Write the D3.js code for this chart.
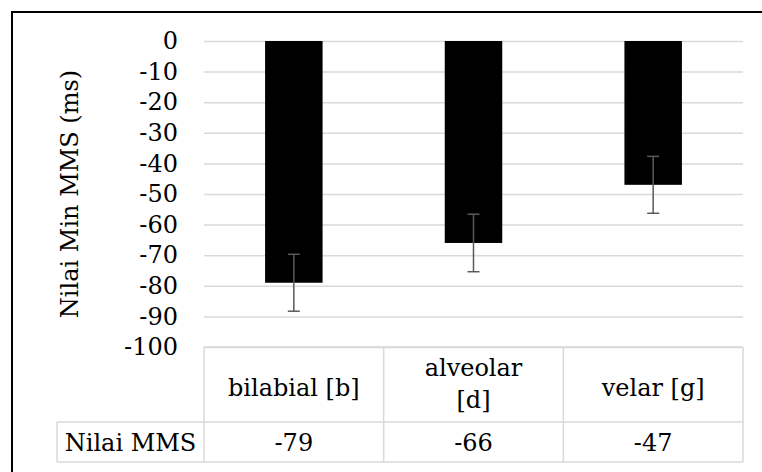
<!DOCTYPE html>
<html>
<head>
<meta charset="utf-8">
<script src="https://cdn.jsdelivr.net/npm/d3@7"></script>
<style>
    body { margin: 0; background: #fff; }
</style>
</head>
<body>
<svg id="chart" width="762" height="472"></svg>
<script>
// Chart values.
const categories = ["bilabial [b]", "alveolar\n[d]", "velar [g]"];
const values = [-79, -66, -47];
const errors = [9.3, 9.4, 9.3];
const yTicks = [0, -10, -20, -30, -40, -50, -60, -70, -80, -90, -100];
const yTitle = "Nilai Min MMS (ms)";
const rowLabel = "Nilai MMS";

const svg = d3.select("#chart");
const fontFamily = "'DejaVu Serif', 'Liberation Serif', serif";
const fontSize = 24;
const gridColor = "#d9d9d9";

// Plot area ("top" is taken by window, hence the plot prefix)
const plotLeft = 204, plotRight = 743, plotTop = 41, plotBottom = 347;
const headerBottom = 422, tableBottom = 462, labelLeft = 57;

const xScale = d3.scaleBand()
    .domain(categories)
    .range([plotLeft, plotRight]);

const yScale = d3.scaleLinear()
    .domain([0, -100])
    .range([plotTop, plotBottom]);

// Outer frame, it runs off the right and bottom edge like the original.
svg.append("rect")
    .attr("x", 12).attr("y", 12)
    .attr("width", 800).attr("height", 500)
    .attr("fill", "none")
    .attr("stroke", "#000")
    .attr("stroke-width", 2);

// Gridlines
const grid = svg.append("g")
    .attr("transform", `translate(${plotLeft},0)`)
    .call(d3.axisLeft(yScale)
        .tickValues(yTicks)
        .tickSize(-(plotRight - plotLeft))
        .tickFormat(""));
grid.select(".domain").remove();
grid.selectAll("line")
    .attr("stroke", gridColor)
    .attr("stroke-width", 1.5);

// Y axis labels
const yAxis = svg.append("g")
    .attr("transform", `translate(${plotLeft},0)`)
    .call(d3.axisLeft(yScale)
        .tickValues(yTicks)
        .tickSize(0)
        .tickPadding(26)
        .tickFormat(d => String(d)));
yAxis.select(".domain").remove();
yAxis.attr("font-family", fontFamily).attr("font-size", fontSize);
yAxis.selectAll("text").attr("fill", "#000");

// Y axis title
svg.append("text")
    .attr("transform", `translate(78,${(plotTop + plotBottom) / 2}) rotate(-90)`)
    .attr("text-anchor", "middle")
    .attr("font-family", fontFamily)
    .attr("font-size", fontSize)
    .text(yTitle);

// Bars
const barWidth = xScale.bandwidth() * 0.32;
svg.selectAll(".bar")
    .data(categories)
    .join("rect")
    .attr("class", "bar")
    .attr("x", d => xScale(d) + (xScale.bandwidth() - barWidth) / 2)
    .attr("y", yScale(0))
    .attr("width", barWidth)
    .attr("height", (d, i) => yScale(values[i]) - yScale(0))
    .attr("fill", "#000");

// Error bars
const capHalf = 6;
const err = svg.selectAll(".err")
    .data(categories)
    .join("g")
    .attr("class", "err")
    .attr("stroke", "#595959")
    .attr("stroke-width", 1.5);
err.append("line")
    .attr("x1", d => xScale(d) + xScale.bandwidth() / 2)
    .attr("x2", d => xScale(d) + xScale.bandwidth() / 2)
    .attr("y1", (d, i) => yScale(values[i] + errors[i]))
    .attr("y2", (d, i) => yScale(values[i] - errors[i]));
err.append("line")
    .attr("x1", d => xScale(d) + xScale.bandwidth() / 2 - capHalf)
    .attr("x2", d => xScale(d) + xScale.bandwidth() / 2 + capHalf)
    .attr("y1", (d, i) => yScale(values[i] + errors[i]))
    .attr("y2", (d, i) => yScale(values[i] + errors[i]));
err.append("line")
    .attr("x1", d => xScale(d) + xScale.bandwidth() / 2 - capHalf)
    .attr("x2", d => xScale(d) + xScale.bandwidth() / 2 + capHalf)
    .attr("y1", (d, i) => yScale(values[i] - errors[i]))
    .attr("y2", (d, i) => yScale(values[i] - errors[i]));

// Data table lines
const table = svg.append("g")
    .attr("stroke", gridColor)
    .attr("stroke-width", 1.5);
table.append("line").attr("x1", plotLeft).attr("x2", plotRight).attr("y1", plotBottom).attr("y2", plotBottom);
table.append("line").attr("x1", labelLeft).attr("x2", plotRight).attr("y1", headerBottom).attr("y2", headerBottom);
table.append("line").attr("x1", labelLeft).attr("x2", plotRight).attr("y1", tableBottom).attr("y2", tableBottom);
table.append("line").attr("x1", labelLeft).attr("x2", labelLeft).attr("y1", headerBottom).attr("y2", tableBottom);
table.selectAll(".col")
    .data(categories.concat([null]))
    .join("line")
    .attr("class", "col")
    .attr("x1", d => d === null ? plotRight : xScale(d))
    .attr("x2", d => d === null ? plotRight : xScale(d))
    .attr("y1", plotBottom)
    .attr("y2", tableBottom);

// Category headers (can wrap onto two lines)
const lineHeight = 32;
svg.selectAll(".cat")
    .data(categories)
    .join("text")
    .attr("class", "cat")
    .attr("text-anchor", "middle")
    .attr("font-family", fontFamily)
    .attr("font-size", fontSize)
    .each(function(d) {
        const lines = d.split("\n");
        const first = 396 - (lines.length - 1) * 20;
        d3.select(this).selectAll("tspan")
            .data(lines)
            .join("tspan")
            .attr("x", xScale(d) + xScale.bandwidth() / 2)
            .attr("y", (l, j) => first + j * lineHeight)
            .text(l => l);
    });

// Value row
svg.append("text")
    .attr("x", (labelLeft + plotLeft) / 2)
    .attr("y", 451)
    .attr("text-anchor", "middle")
    .attr("font-family", fontFamily)
    .attr("font-size", fontSize)
    .text(rowLabel);

svg.selectAll(".val")
    .data(categories)
    .join("text")
    .attr("class", "val")
    .attr("x", d => xScale(d) + xScale.bandwidth() / 2)
    .attr("y", 451)
    .attr("text-anchor", "middle")
    .attr("font-family", fontFamily)
    .attr("font-size", fontSize)
    .text((d, i) => values[i]);
</script>
</body>
</html>
